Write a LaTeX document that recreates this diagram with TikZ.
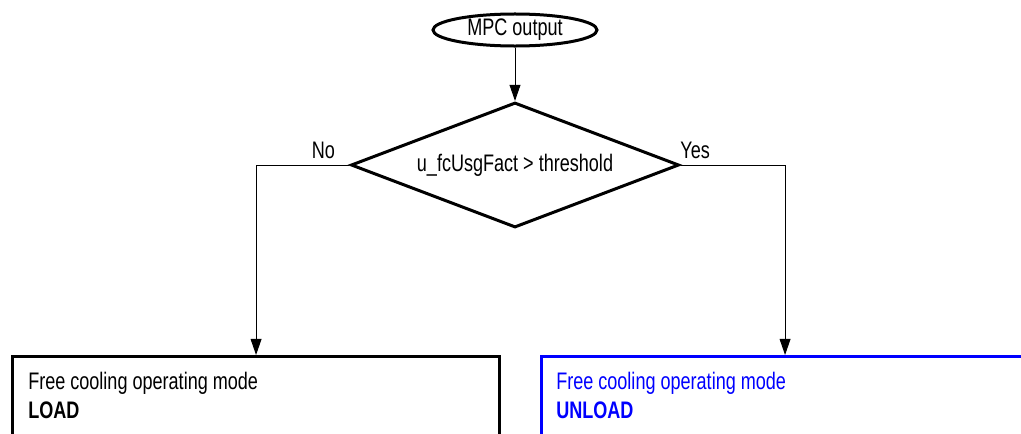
\documentclass[tikz,border=0pt]{standalone}
\usepackage{fontspec}
\setmainfont{Liberation Sans}[FakeStretch=0.755]
\usetikzlibrary{arrows.meta,shapes.geometric}
\definecolor{modeblue}{RGB}{0,0,255}

\begin{document}
\begin{tikzpicture}[x=0.025cm, y=-0.025cm, >={Triangle[length=4mm,width=2.7mm]},
        font=\fontsize{17}{20}\selectfont,
        thickline/.style={draw, line width=0.75mm, inner sep=0pt},
        modebox/.style={thickline, anchor=north west, minimum width=12.175cm, minimum height=3cm},
        link/.style={->, line width=0.7pt}]
        \useasboundingbox (0,0) rectangle (1021,434);

        \node[thickline, ellipse, minimum width=4.1cm, minimum height=0.8cm] (mpc) at (515,30) {MPC output};
        \node[thickline, diamond, aspect=2.6, minimum width=8.2cm, minimum height=3.125cm] (cond) at (515,165) {u\_fcUsgFact > threshold};

        \node[modebox] (load) at (11,355) {};
        \node[modebox, modeblue] (unload) at (540,355) {};
        \node[anchor=base west, inner sep=0pt, align=left] (loadtxt) at (28,418)
            {Free cooling operating mode\\\textbf{LOAD}};
        \node[anchor=base west, inner sep=0pt, align=left, text=modeblue] (unloadtxt) at (556,418)
            {Free cooling operating mode\\\textbf{UNLOAD}};

        \draw[link] (mpc) -- (cond);
        \draw[link] (cond.west) -| node[above, pos=0.14, yshift=1pt] {No} (load.north);
        \draw[link] (cond.east) -| node[above, pos=0.07, yshift=1pt] {Yes} (unload.north);
    \end{tikzpicture}
\end{document}
